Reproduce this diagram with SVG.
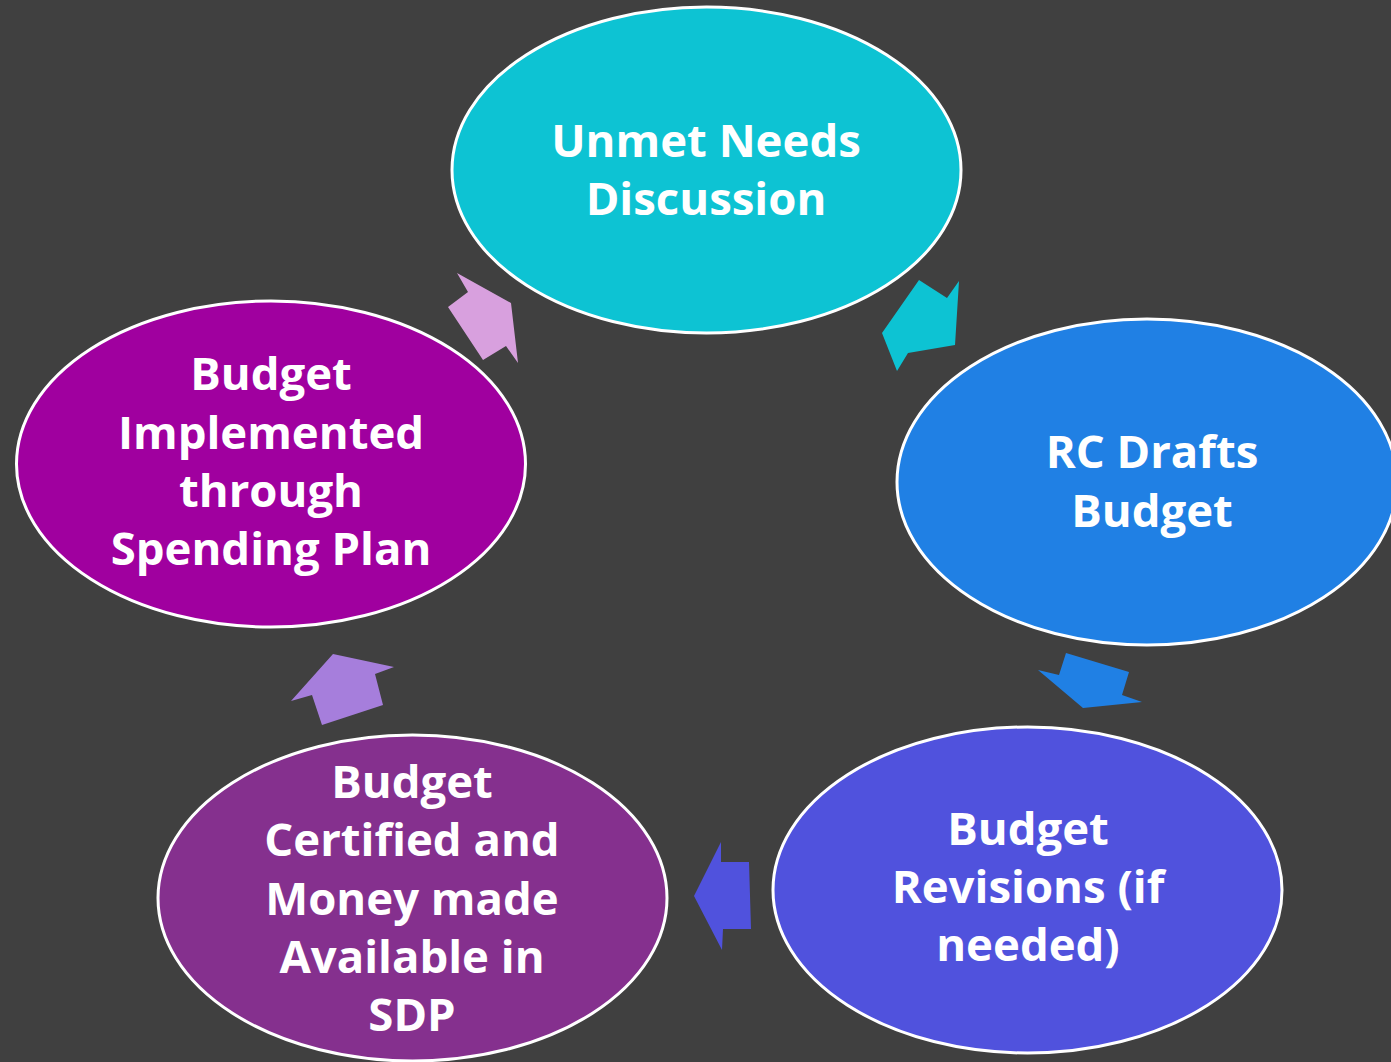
<svg xmlns="http://www.w3.org/2000/svg" width="1391" height="1062" viewBox="0 0 1391 1062">
<style>
.node ellipse{stroke:#ffffff;stroke-width:3}
.node text{font-family:"Open Sans","Noto Sans",sans-serif;font-weight:700;font-size:45.5px;fill:#ffffff;text-anchor:middle}
</style>
<rect width="1391" height="1062" fill="#404040"/>
<g id="connectors">
<polygon points="919,280 947,298 959,281 955,345 908,353 897,371 882,333" fill="#0DC3D3"/>
<polygon points="1066,653 1129,672 1122,695 1142,702 1083,708 1038,670 1059,675" fill="#2080E4"/>
<polygon points="721,842 721,862 749,862 751,929 723,929 722,950 694,896" fill="#5052DD"/>
<polygon points="333,654 394,667 375,674 383,705 322,725 312,695 291,701" fill="#A67EDC"/>
<polygon points="457,273 468,292 448,307 483,360 506,346 518,363 511,303" fill="#D8A0DE"/>
</g>
<g id="node-unmet" class="node">
<ellipse cx="706.5" cy="170" rx="254.5" ry="163" fill="#0DC3D3"/>
<text x="706" y="157">Unmet Needs</text>
<text x="706" y="215">Discussion</text>
</g>
<g id="node-rc" class="node">
<ellipse cx="1147" cy="482" rx="250" ry="163" fill="#2080E4"/>
<text x="1152" y="468">RC Drafts</text>
<text x="1152" y="527">Budget</text>
</g>
<g id="node-revisions" class="node">
<ellipse cx="1027.5" cy="890" rx="254.5" ry="163" fill="#5052DD"/>
<text x="1028" y="845">Budget</text>
<text x="1028" y="903">Revisions (if</text>
<text x="1028" y="961">needed)</text>
</g>
<g id="node-certified" class="node">
<ellipse cx="412.5" cy="898" rx="254.5" ry="163" fill="#85308E"/>
<text x="412" y="798">Budget</text>
<text x="412" y="856">Certified and</text>
<text x="412" y="915">Money made</text>
<text x="412" y="973">Available in</text>
<text x="412" y="1031">SDP</text>
</g>
<g id="node-implemented" class="node">
<ellipse cx="271" cy="464" rx="254.5" ry="163" fill="#A0009F"/>
<text x="271" y="390">Budget</text>
<text x="271" y="449">Implemented</text>
<text x="271" y="507">through</text>
<text x="271" y="565">Spending Plan</text>
</g>
</svg>
